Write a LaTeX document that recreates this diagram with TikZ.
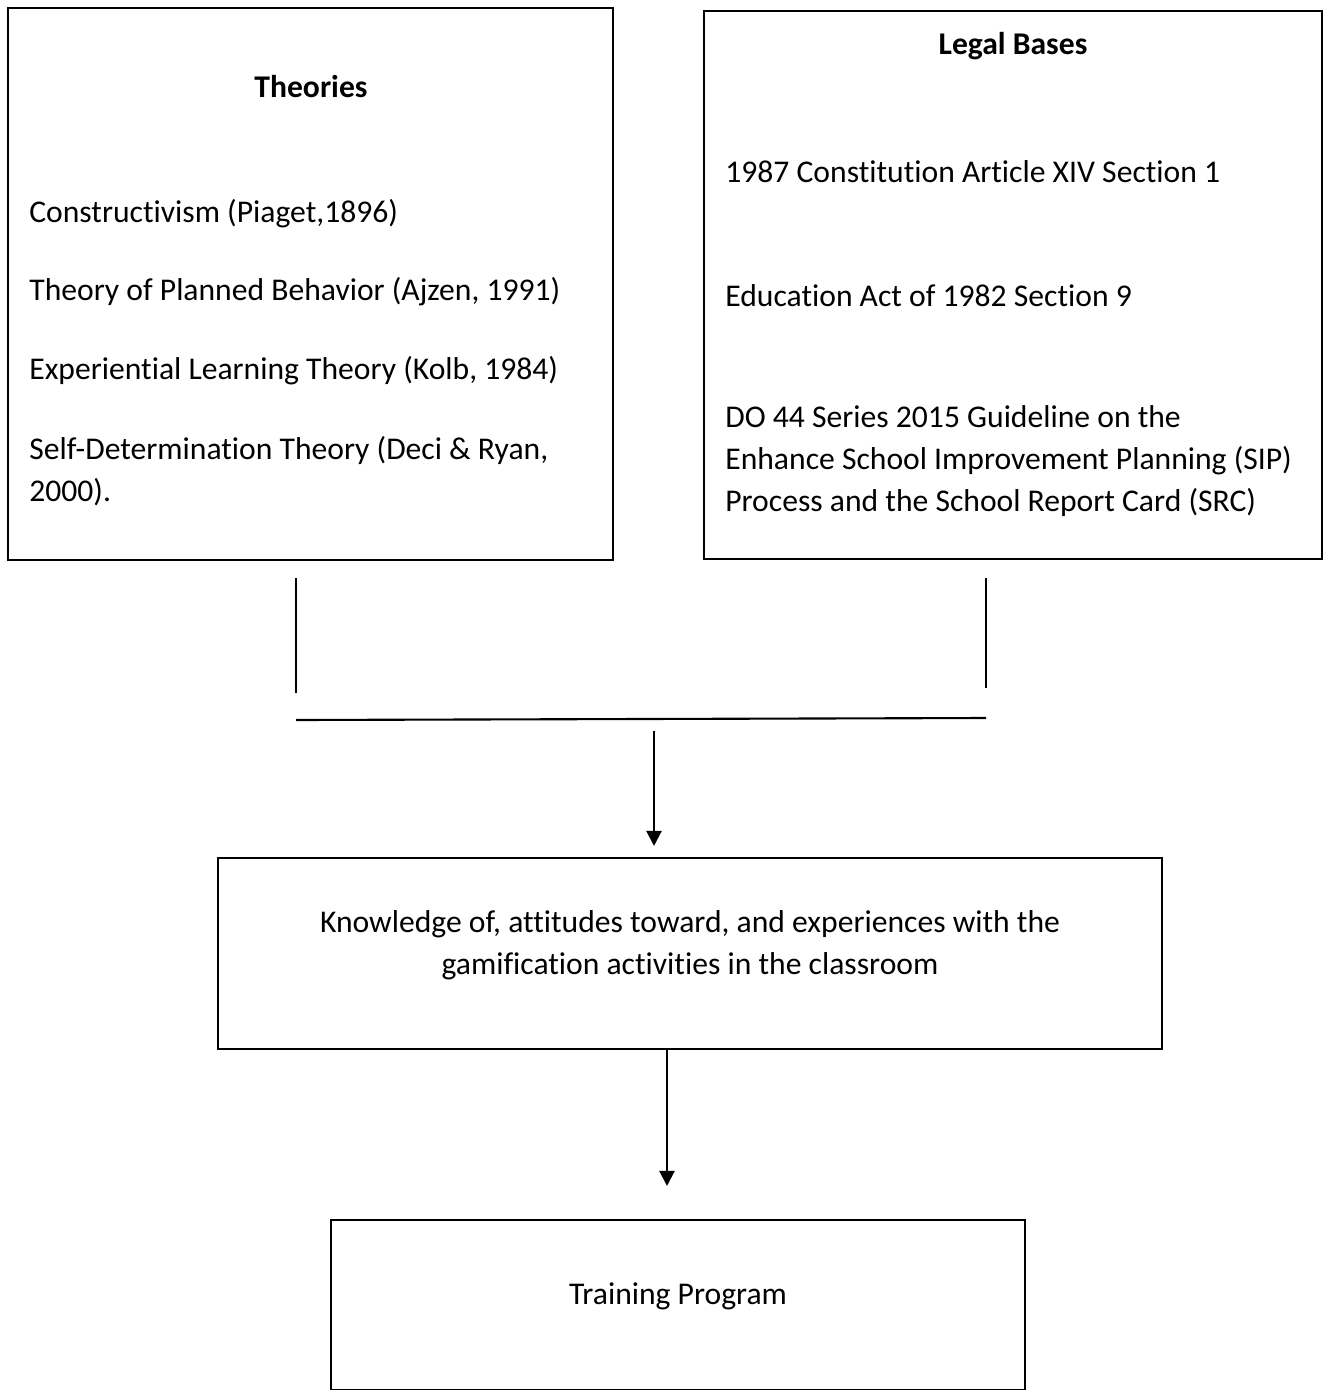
\documentclass[tikz,border=0pt]{standalone}
\usepackage{fontspec}
\setmainfont{Carlito}[RawFeature={-liga;-clig;-calt}]
\usepackage{tikz}
\usetikzlibrary{arrows.meta}
\tikzset{box/.style={draw, line width=1.2pt, rectangle, inner sep=0pt},
  txt/.style={inner sep=0pt, align=left, font=\fontsize{18}{23.8}\selectfont},
  head/.style={inner sep=0pt, font=\fontsize{18}{23.8}\selectfont\bfseries},
  line/.style={line width=1.2pt},
  arr/.style={line width=1.2pt, -{Triangle[width=0.3cm,length=0.3cm]}}}

\begin{document}
\begin{tikzpicture}[x=0.02cm,y=-0.02cm]
    \useasboundingbox (0,0) rectangle (1323,1390);
    % boxes
    \node[box, minimum width=12.1cm, minimum height=11.04cm](Theories) at (310.5,284){};
    \node[box, minimum width=12.36cm, minimum height=10.96cm](Legal) at (1013,285){};
    \node[box, minimum width=18.88cm, minimum height=3.82cm](Findings) at (690,953.5){};
    \node[box, minimum width=13.88cm, minimum height=3.4cm](Training) at (678,1305){};
    % texts
    \node[head](TheoriesHead) at (311,87){Theories};
    \node[txt, anchor=west](Piaget) at (29,214){Constructivism (Piaget,1896)};
    \node[txt, anchor=west](Ajzen) at (29,292){Theory of Planned Behavior (Ajzen, 1991)};
    \node[txt, anchor=west](Kolb) at (29,371){Experiential Learning Theory (Kolb, 1984)};
    \node[txt, anchor=west](Deci) at (29,471){Self-Determination Theory (Deci \& Ryan,\\2000).};
    \node[head](LegalHead) at (1013,46){Legal Bases};
    \node[txt, anchor=west](Constitution) at (725,172){1987 Constitution Article XIV Section 1};
    \node[txt, anchor=west](EduAct) at (725,296){Education Act of 1982 Section 9};
    \node[txt, anchor=west](DepOrder) at (725,461){DO 44 Series 2015 Guideline on the\\Enhance School Improvement Planning (SIP)\\Process and the School Report Card (SRC)};
    \node[txt, align=center](FindingsText) at (690,945){Knowledge of, attitudes toward, and experiences with the\\gamification activities in the classroom};
    \node[txt](TrainingText) at (678,1296){Training Program};
    % connectors
    \coordinate (T1) at (296,578);
    \coordinate (T2) at (296,693);
    \coordinate (L1) at (986,578);
    \coordinate (L2) at (986,688);
    \coordinate (J1) at (296,720);
    \coordinate (J2) at (986,718);
    \coordinate (A1) at (654,731);
    \coordinate (A2) at (667,1049);
    \draw[line](T1) -- (T2);
    \draw[line](L1) -- (L2);
    \draw[line](J1) -- (J2);
    \draw[arr, shorten >=0.22cm](A1) -- (A1 |- Findings.north);
    \draw[arr, shorten >=0.66cm](A2) -- (A2 |- Training.north);
\end{tikzpicture}
\end{document}
